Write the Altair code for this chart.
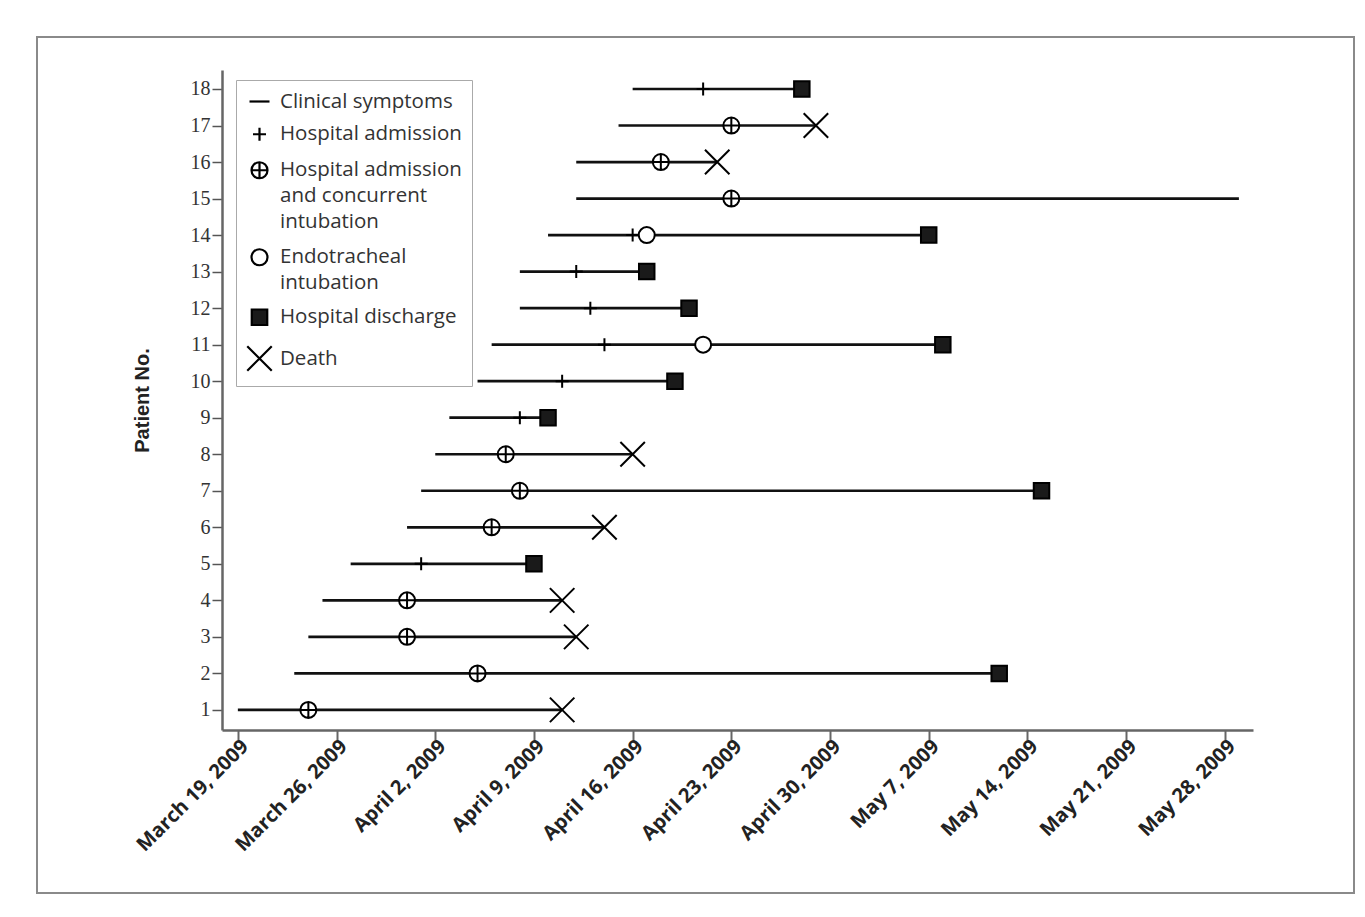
import altair as alt
import pandas as pd

# ---- data ----
patients = list(range(1, 19))
symptom_onset = ["2009-03-19", "2009-03-23", "2009-03-24", "2009-03-25", "2009-03-27",
                 "2009-03-31", "2009-04-01", "2009-04-02", "2009-04-03", "2009-04-05",
                 "2009-04-06", "2009-04-08", "2009-04-08", "2009-04-10", "2009-04-12",
                 "2009-04-12", "2009-04-15", "2009-04-16"]
line_end = ["2009-04-11", "2009-05-12", "2009-04-12", "2009-04-11", "2009-04-09",
            "2009-04-14", "2009-05-15", "2009-04-16", "2009-04-10", "2009-04-19",
            "2009-05-08", "2009-04-20", "2009-04-17", "2009-05-07", "2009-05-29",
            "2009-04-22", "2009-04-29", "2009-04-28"]

admission_patients = [5, 9, 10, 11, 12, 13, 14, 18]
admission_dates = ["2009-04-01", "2009-04-08", "2009-04-11", "2009-04-14", "2009-04-13",
                   "2009-04-12", "2009-04-16", "2009-04-21"]

adm_intub_patients = [1, 2, 3, 4, 6, 7, 8, 15, 16, 17]
adm_intub_dates = ["2009-03-24", "2009-04-05", "2009-03-31", "2009-03-31", "2009-04-06",
                   "2009-04-08", "2009-04-07", "2009-04-23", "2009-04-18", "2009-04-23"]

intub_patients = [11, 14]
intub_dates = ["2009-04-21", "2009-04-17"]

discharge_patients = [2, 5, 7, 9, 10, 11, 12, 13, 14, 18]
discharge_dates = ["2009-05-12", "2009-04-09", "2009-05-15", "2009-04-10", "2009-04-19",
                   "2009-05-08", "2009-04-20", "2009-04-17", "2009-05-07", "2009-04-28"]

death_patients = [1, 3, 4, 6, 8, 16, 17]
death_dates = ["2009-04-11", "2009-04-12", "2009-04-11", "2009-04-14", "2009-04-16",
               "2009-04-22", "2009-04-29"]

event_names = ["Clinical symptoms", "Hospital admission",
               "Hospital admission|and concurrent|intubation",
               "Endotracheal|intubation", "Hospital discharge", "Death"]
tick_dates = ["2009-03-19", "2009-03-26", "2009-04-02", "2009-04-09", "2009-04-16",
              "2009-04-23", "2009-04-30", "2009-05-07", "2009-05-14", "2009-05-21",
              "2009-05-28"]

# ---- tables ----
lines = pd.DataFrame({"patient": patients, "start": symptom_onset, "end": line_end})
rows = []
for name, ps, ds in [(event_names[1], admission_patients, admission_dates),
                     (event_names[2], adm_intub_patients, adm_intub_dates),
                     (event_names[3], intub_patients, intub_dates),
                     (event_names[4], discharge_patients, discharge_dates),
                     (event_names[5], death_patients, death_dates)]:
    for p, d in zip(ps, ds):
        rows.append({"patient": p, "date": d, "event": name})
events = pd.DataFrame(rows)

def dt(s, h=0):
    y, m, d = [int(v) for v in s.split("-")]
    return alt.DateTime(year=y, month=m, date=d, hours=h, utc=True)

x_scale = alt.Scale(type="utc", domain=[dt("2009-03-17", 21), dt("2009-05-30")])
y_scale = alt.Scale(domain=[0.45, 18.52], nice=False, zero=False)

x_axis = alt.Axis(values=[dt(s) for s in tick_dates],
                  labelExpr="utcFormat(datum.value, '%B %-d, %Y')",
                  labelAngle=-45, labelAlign="right", labelBaseline="middle",
                  labelFont="Open Sans", labelFontWeight="bold", labelFontSize=20,
                  labelColor="#222", tickSize=10, tickWidth=2, tickColor="#666",
                  domainColor="#666", domainWidth=2.5, labelPadding=3, labelOffset=7,
                  grid=False, title=None, labelOverlap=False)
y_axis = alt.Axis(values=patients, format="d", labelFont="Liberation Serif",
                  labelFontSize=20, labelColor="#333", tickSize=10, tickWidth=1.5,
                  tickColor="#555", domainColor="#666", domainWidth=2.5, labelPadding=2,
                  grid=False, title="Patient No.", titleFont="Liberation Sans",
                  titleFontWeight="bold", titleFontSize=20, titleColor="#222",
                  titlePadding=38, labelOverlap=False)

shape_range = ["M-1,0L1,0",
               "M-1,0L1,0M0,-1L0,1",
               "M-1,0L1,0M0,-1L0,1M1,0A1,1 0 1,1 -1,0A1,1 0 1,1 1,0Z",
               "M1,0A1,1 0 1,1 -1,0A1,1 0 1,1 1,0Z",
               "M-1,-1L1,-1L1,1L-1,1Z",
               "M-1,-1L1,1M1,-1L-1,1"]
size_range = [400, 169, 256, 256, 240, 600]
fill_range = ["black", "black", "white", "white", "#1a1a1a", "black"]
stroke_range = ["black"] * 6

legend = alt.Legend(title=None, orient="none", legendX=14, legendY=10,
                    direction="vertical", fillColor="white", strokeColor="#aaa",
                    padding=10, labelFont="Open Sans", labelFontSize=20.5,
                    labelColor="#333", labelOffset=7, rowPadding=11,
                    symbolStrokeWidth=2.2, labelExpr="split(datum.label, '|')",
                    labelLimit=400, labelBaseline="middle")

frame = alt.Chart(alt.Data(values=[{}])).mark_rect(
    fill=None, stroke="#8a8a8a", strokeWidth=2
).encode(x=alt.value(-185), x2=alt.value(1132), y=alt.value(-33), y2=alt.value(823))

rules = alt.Chart(lines).mark_rule(color="#111", strokeWidth=2.7).encode(
    x=alt.X("start:T", scale=x_scale, axis=x_axis),
    x2="end:T",
    y=alt.Y("patient:Q", scale=y_scale, axis=y_axis),
)

points = alt.Chart(events).mark_point(filled=True, strokeWidth=2, opacity=1).encode(
    x=alt.X("date:T", scale=x_scale, axis=x_axis),
    y=alt.Y("patient:Q", scale=y_scale, axis=y_axis),
    shape=alt.Shape("event:N", scale=alt.Scale(domain=event_names, range=shape_range),
                    legend=legend),
    size=alt.Size("event:N", scale=alt.Scale(type="ordinal", domain=event_names,
                                             range=size_range),
                  legend=legend),
    fill=alt.Fill("event:N", scale=alt.Scale(domain=event_names, range=fill_range),
                  legend=legend),
    stroke=alt.Stroke("event:N", scale=alt.Scale(domain=event_names, range=stroke_range),
                      legend=legend),
)

chart = alt.layer(frame, rules, points).properties(
    width=1031, height=660,
    autosize=alt.AutoSizeParams(type="none"),
    padding={"left": 214, "top": 62, "right": 104, "bottom": 179},
).configure(
    background="white",
    view=alt.ViewConfig(stroke="transparent", strokeWidth=0),
    style={"guide-label": {"lineHeight": 26}},
)

chart.save("out.html", embed_options={"renderer": "svg", "actions": False})
